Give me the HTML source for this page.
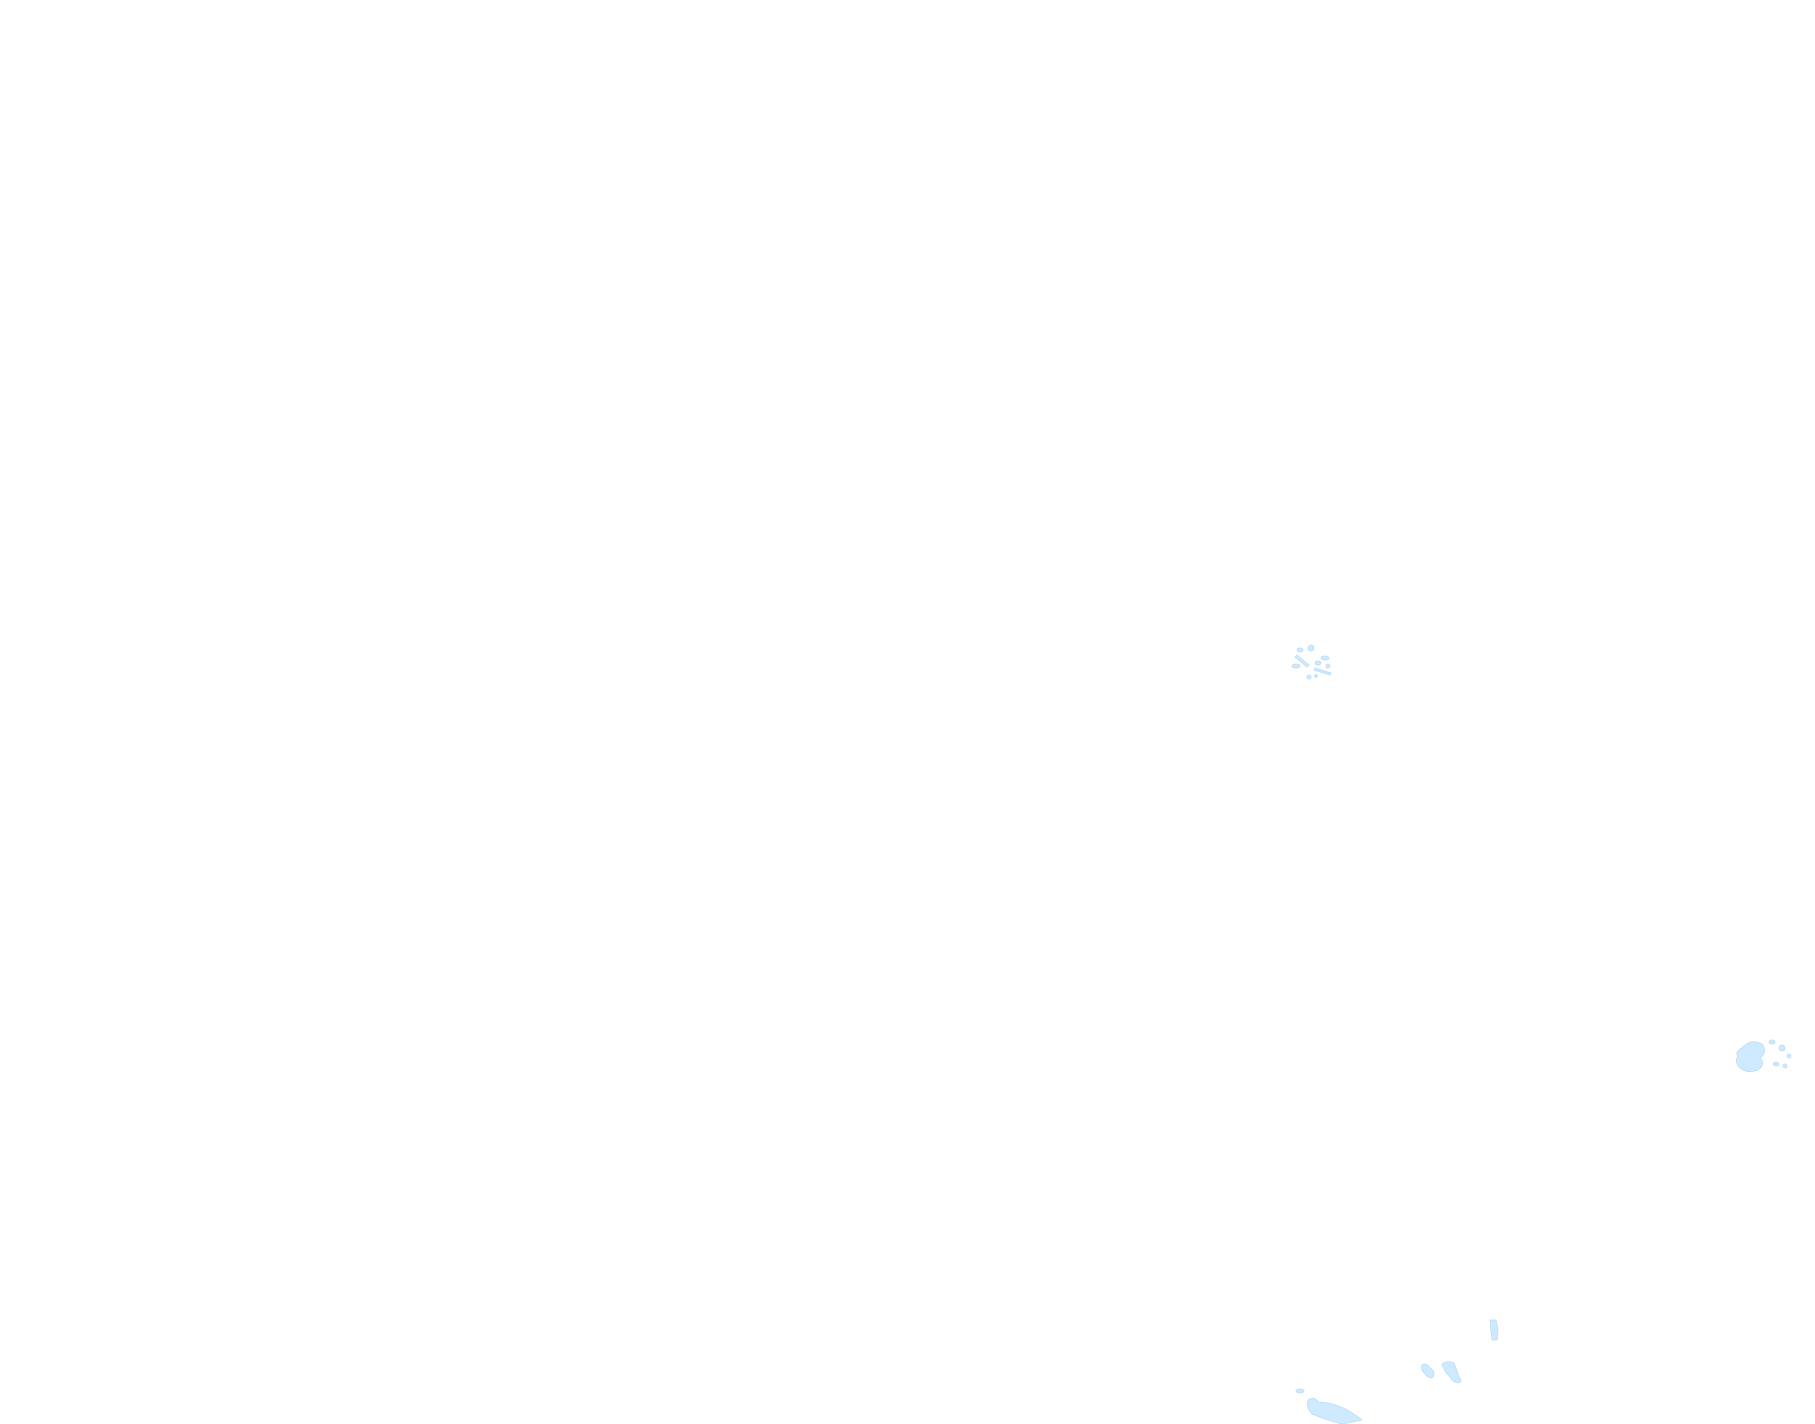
<!DOCTYPE html>
<html><head><meta charset="utf-8"><style>
html,body{margin:0;padding:0;background:#fff;width:1815px;height:1424px;overflow:hidden}
</style></head><body>
<svg width="1815" height="1424" viewBox="0 0 1815 1424" xmlns="http://www.w3.org/2000/svg">
<g fill="#cfeaff" stroke="#b8dcf8" stroke-width="0.8">
<!-- cluster 1 -->
<ellipse cx="1300" cy="650" rx="3" ry="2"/>
<ellipse cx="1311" cy="648" rx="3" ry="3"/>
<path d="M1297 655 l12 10 l-2 2 l-12 -10z"/>
<ellipse cx="1325" cy="658" rx="4" ry="2"/>
<ellipse cx="1318" cy="663" rx="3" ry="2"/>
<ellipse cx="1296" cy="666" rx="4" ry="2"/>
<path d="M1315 668 l16 5 l-1 2 l-16 -5z"/>
<ellipse cx="1328" cy="666" rx="2" ry="2"/>
<ellipse cx="1309" cy="677" rx="2" ry="2"/>
<ellipse cx="1316" cy="676" rx="1.5" ry="1.5"/>
<!-- cluster 2 -->
<path d="M1742 1048 q8 -10 20 -4 q6 8 -2 14 q6 6 -2 12 q-10 4 -18 -2 q-6 -6 -2 -12 q-4 -4 4 -8z"/>
<ellipse cx="1772" cy="1042" rx="3" ry="2"/>
<ellipse cx="1782" cy="1048" rx="3" ry="3"/>
<ellipse cx="1789" cy="1056" rx="2" ry="2"/>
<ellipse cx="1776" cy="1064" rx="3" ry="2"/>
<ellipse cx="1785" cy="1066" rx="2" ry="2"/>
<!-- bottom shapes -->
<path d="M1490 1320 l6 0 l2 10 l-1 10 l-5 0 l-1 -8z"/>
<path d="M1422 1365 q4 -3 8 3 q6 4 3 9 q-4 2 -8 -3 q-5 -5 -3 -9z"/>
<path d="M1442 1364 q6 -4 12 -1 q3 8 5 14 q4 4 0 6 q-6 0 -9 -6 q-6 -6 -8 -13z"/>
<ellipse cx="1300" cy="1391" rx="4" ry="2"/>
<path d="M1308 1400 q6 -4 10 2 q10 0 20 4 q12 4 24 14 l-20 4 q-16 -4 -30 -10 q-6 -6 -4 -14z"/>
</g>
</svg>
</body></html>
